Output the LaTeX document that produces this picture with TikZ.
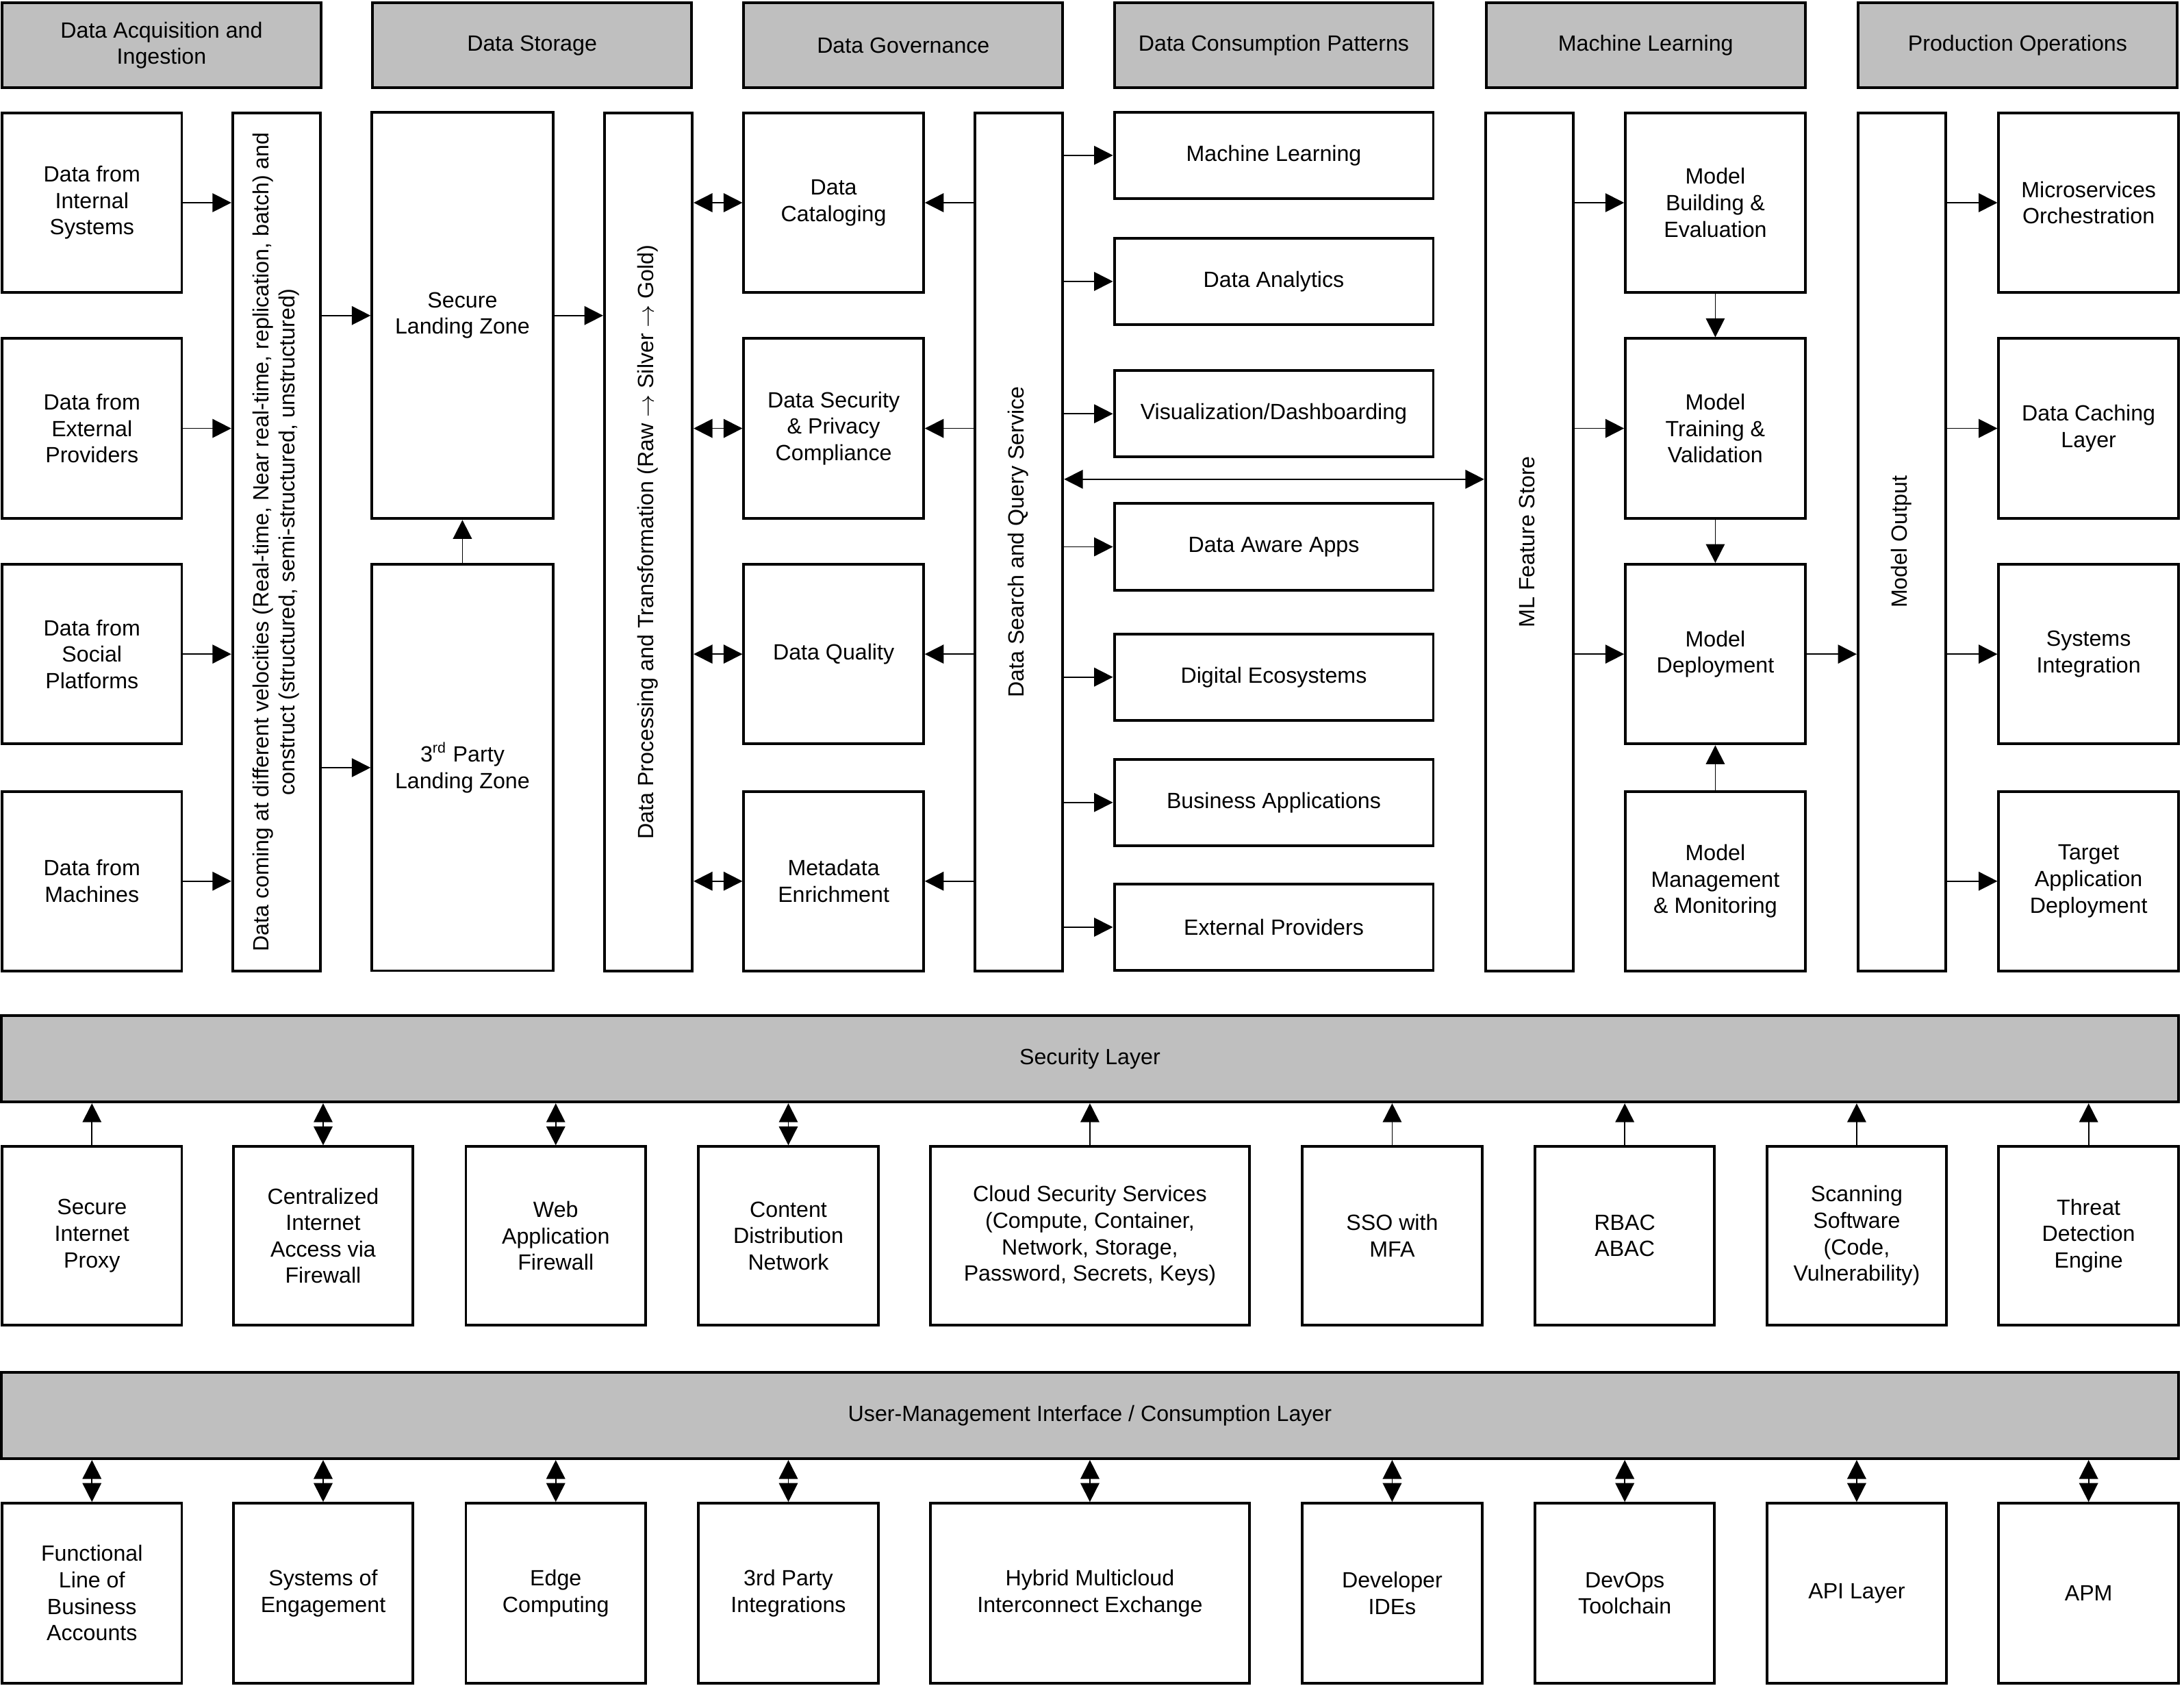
\documentclass[tikz,border=0pt]{standalone}
\usepackage{fontspec}
\setmainfont{Liberation Sans}
\usetikzlibrary{arrows.meta}
\definecolor{agray}{HTML}{BFBFBF}
\newcommand{\rottext}[1]{\rotatebox{90}{\begin{tabular}{@{}c@{}}#1\end{tabular}}}
\tikzset{
  >={Triangle[length=2.7mm,width=2.7mm]},
  abase/.style={draw=black, line width=1.1pt, align=center, inner sep=2pt,
                font=\fontsize{9pt}{10.8pt}\selectfont},
  ahead/.style={abase, fill=agray, minimum width=45.8mm, minimum height=12.2mm},
  alayer/.style={abase, fill=agray, minimum width=312.6mm, minimum height=12.4mm},
  abox/.style={abase, minimum width=25.8mm, minimum height=25.8mm},
  awide/.style={abase, minimum width=45.8mm, minimum height=25.6mm},
  acons/.style={abase, minimum width=45.8mm, minimum height=12.4mm},
  atall/.style={abase, minimum width=12.6mm, minimum height=123.2mm},
  aland/.style={abase, minimum width=26mm, minimum height=58.3mm},
  aflow/.style={->, line width=0.5pt},
  abiflow/.style={<->, line width=0.5pt},
}

\begin{document}
\begin{tikzpicture}[x=0.2mm,y=-0.2mm]
  \useasboundingbox (0,0) rectangle (1568,1210);

  % column headers
  \node[ahead] (hacq) at (116,32.5)    {Data Acquisition and\\Ingestion};
  \node[ahead] (hsto) at (382,32.5)    {Data Storage};
  \node[ahead] (hgov) at (648.5,32.5)  {Data Governance};
  \node[ahead] (hcon) at (914.5,32.5)  {Data Consumption Patterns};
  \node[ahead] (hml)  at (1181.5,32.5) {Machine Learning};
  \node[ahead] (hops) at (1448.5,32.5) {Production Operations};

  % sources
  \node[abox] (din) at (66,145.5) {Data from\\Internal\\Systems};
  \node[abox] (dex) at (66,307.5) {Data from\\External\\Providers};
  \node[abox] (dso) at (66,469.5) {Data from\\Social\\Platforms};
  \node[abox] (dma) at (66,632.5) {Data from\\Machines};

  % ingestion and storage
  \node[atall] (vel) at (198.5,389)
    {\rottext{Data coming at different velocities (Real-time, Near real-time, replication, batch) and\\
              construct (structured, semi-structured, unstructured)}};
  \node[aland] (slz) at (332,226.5) {Secure\\Landing Zone};
  \node[aland] (tpl) at (332,551)   {3\textsuperscript{rd} Party\\Landing Zone};
  \node[atall] (proc) at (465.5,389)
    {\rottext{Data Processing and Transformation (Raw $\rightarrow$ Silver $\rightarrow$ Gold)}};

  % governance
  \node[abox] (gcat) at (598.5,145.5) {Data\\Cataloging};
  \node[abox] (gsec) at (598.5,307.5) {Data Security\\\& Privacy\\Compliance};
  \node[abox] (gqua) at (598.5,469.5) {Data Quality};
  \node[abox] (gmet) at (598.5,632.5) {Metadata\\Enrichment};
  \node[atall] (srch) at (731.5,389) {\rottext{Data Search and Query Service}};

  % consumption
  \node[acons] (cml)  at (914.5,111.5) {Machine Learning};
  \node[acons] (can)  at (914.5,202)   {Data Analytics};
  \node[acons] (cvis) at (914.5,297)   {Visualization/Dashboarding};
  \node[acons] (capp) at (914.5,392.5) {Data Aware Apps};
  \node[acons] (ceco) at (914.5,486)   {Digital Ecosystems};
  \node[acons] (cbiz) at (914.5,576)   {Business Applications};
  \node[acons] (cext) at (914.5,665.5) {External Providers};

  % machine learning
  \node[atall] (mlfs) at (1098,389) {\rottext{ML Feature Store}};
  \node[abox] (mbe) at (1231.5,145.5) {Model\\Building \&\\Evaluation};
  \node[abox] (mtv) at (1231.5,307.5) {Model\\Training \&\\Validation};
  \node[abox] (mdp) at (1231.5,469.5) {Model\\Deployment};
  \node[abox] (mmm) at (1231.5,632.5) {Model\\Management\\\& Monitoring};
  \node[atall] (mout) at (1365.5,389) {\rottext{Model Output}};

  % production
  \node[abox] (pmic) at (1499.5,145.5) {Microservices\\Orchestration};
  \node[abox] (pcac) at (1499.5,307.5) {Data Caching\\Layer};
  \node[abox] (psys) at (1499.5,469.5) {Systems\\Integration};
  \node[abox] (ptar) at (1499.5,632.5) {Target\\Application\\Deployment};

  % security layer
  \node[alayer] (seclay) at (782.5,760) {Security Layer};
  \node[abox, minimum height=25.6mm] (s1) at (66,887)  {Secure\\Internet\\Proxy};
  \node[abox, minimum height=25.6mm] (s2) at (232,887) {Centralized\\Internet\\Access via\\Firewall};
  \node[abox, minimum height=25.6mm] (s3) at (399,887) {Web\\Application\\Firewall};
  \node[abox, minimum height=25.6mm] (s4) at (566,887) {Content\\Distribution\\Network};
  \node[awide] (s5) at (782.5,887) {Cloud Security Services\\(Compute, Container,\\Network, Storage,\\Password, Secrets, Keys)};
  \node[abox, minimum height=25.6mm] (s6) at (999.5,887)  {SSO with\\MFA};
  \node[abox, minimum height=25.6mm] (s7) at (1166.5,887) {RBAC\\ABAC};
  \node[abox, minimum height=25.6mm] (s8) at (1333,887)   {Scanning\\Software\\(Code,\\Vulnerability)};
  \node[abox, minimum height=25.6mm] (s9) at (1499.5,887) {Threat\\Detection\\Engine};

  % user-management layer
  \node[alayer] (usrlay) at (782.5,1016) {User-Management Interface / Consumption Layer};
  \node[abox] (u1) at (66,1143.5)  {Functional\\Line of\\Business\\Accounts};
  \node[abox] (u2) at (232,1143.5) {Systems of\\Engagement};
  \node[abox] (u3) at (399,1143.5) {Edge\\Computing};
  \node[abox] (u4) at (566,1143.5) {3rd Party\\Integrations};
  \node[awide, minimum height=25.8mm] (u5) at (782.5,1143.5) {Hybrid Multicloud\\Interconnect Exchange};
  \node[abox] (u6) at (999.5,1143.5)  {Developer\\IDEs};
  \node[abox] (u7) at (1166.5,1143.5) {DevOps\\Toolchain};
  \node[abox] (u8) at (1333,1143.5)   {API Layer};
  \node[abox] (u9) at (1499.5,1143.5) {APM};

  % flows in the upper part
  \foreach \n in {din,dex,dso,dma}
    \draw[aflow] (\n.east) -- (\n.east -| vel.west);
  \draw[aflow] (slz.west -| vel.east) -- (slz.west);
  \draw[aflow] (tpl.west -| vel.east) -- (tpl.west);
  \draw[aflow] (tpl.north) -- (slz.south);
  \draw[aflow] (slz.east) -- (slz.east -| proc.west);
  \foreach \n in {gcat,gsec,gqua,gmet} {
    \draw[abiflow] (\n.west -| proc.east) -- (\n.west);
    \draw[aflow] (\n.east -| srch.west) -- (\n.east);
  }
  \foreach \n in {cml,can,cvis,capp,ceco,cbiz,cext}
    \draw[aflow] (\n.west -| srch.east) -- (\n.west);
  \draw[abiflow] ([yshift=9mm]srch.east) -- ([yshift=9mm]mlfs.west);
  \foreach \n in {mbe,mtv,mdp}
    \draw[aflow] (\n.west -| mlfs.east) -- (\n.west);
  \draw[aflow] (mbe.south) -- (mtv.north);
  \draw[aflow] (mtv.south) -- (mdp.north);
  \draw[aflow] (mmm.north) -- (mdp.south);
  \draw[aflow] (mdp.east) -- (mdp.east -| mout.west);
  \foreach \n in {pmic,pcac,psys,ptar}
    \draw[aflow] (\n.west -| mout.east) -- (\n.west);

  % flows to the layers
  \foreach \n in {s1,s5,s6,s7,s8,s9}
    \draw[aflow] (\n.north) -- (\n.north |- seclay.south);
  \foreach \n in {s2,s3,s4}
    \draw[abiflow] (\n.north) -- (\n.north |- seclay.south);
  \foreach \i in {1,...,9}
    \draw[abiflow] (u\i.north) -- (u\i.north |- usrlay.south);

\end{tikzpicture}
\end{document}
